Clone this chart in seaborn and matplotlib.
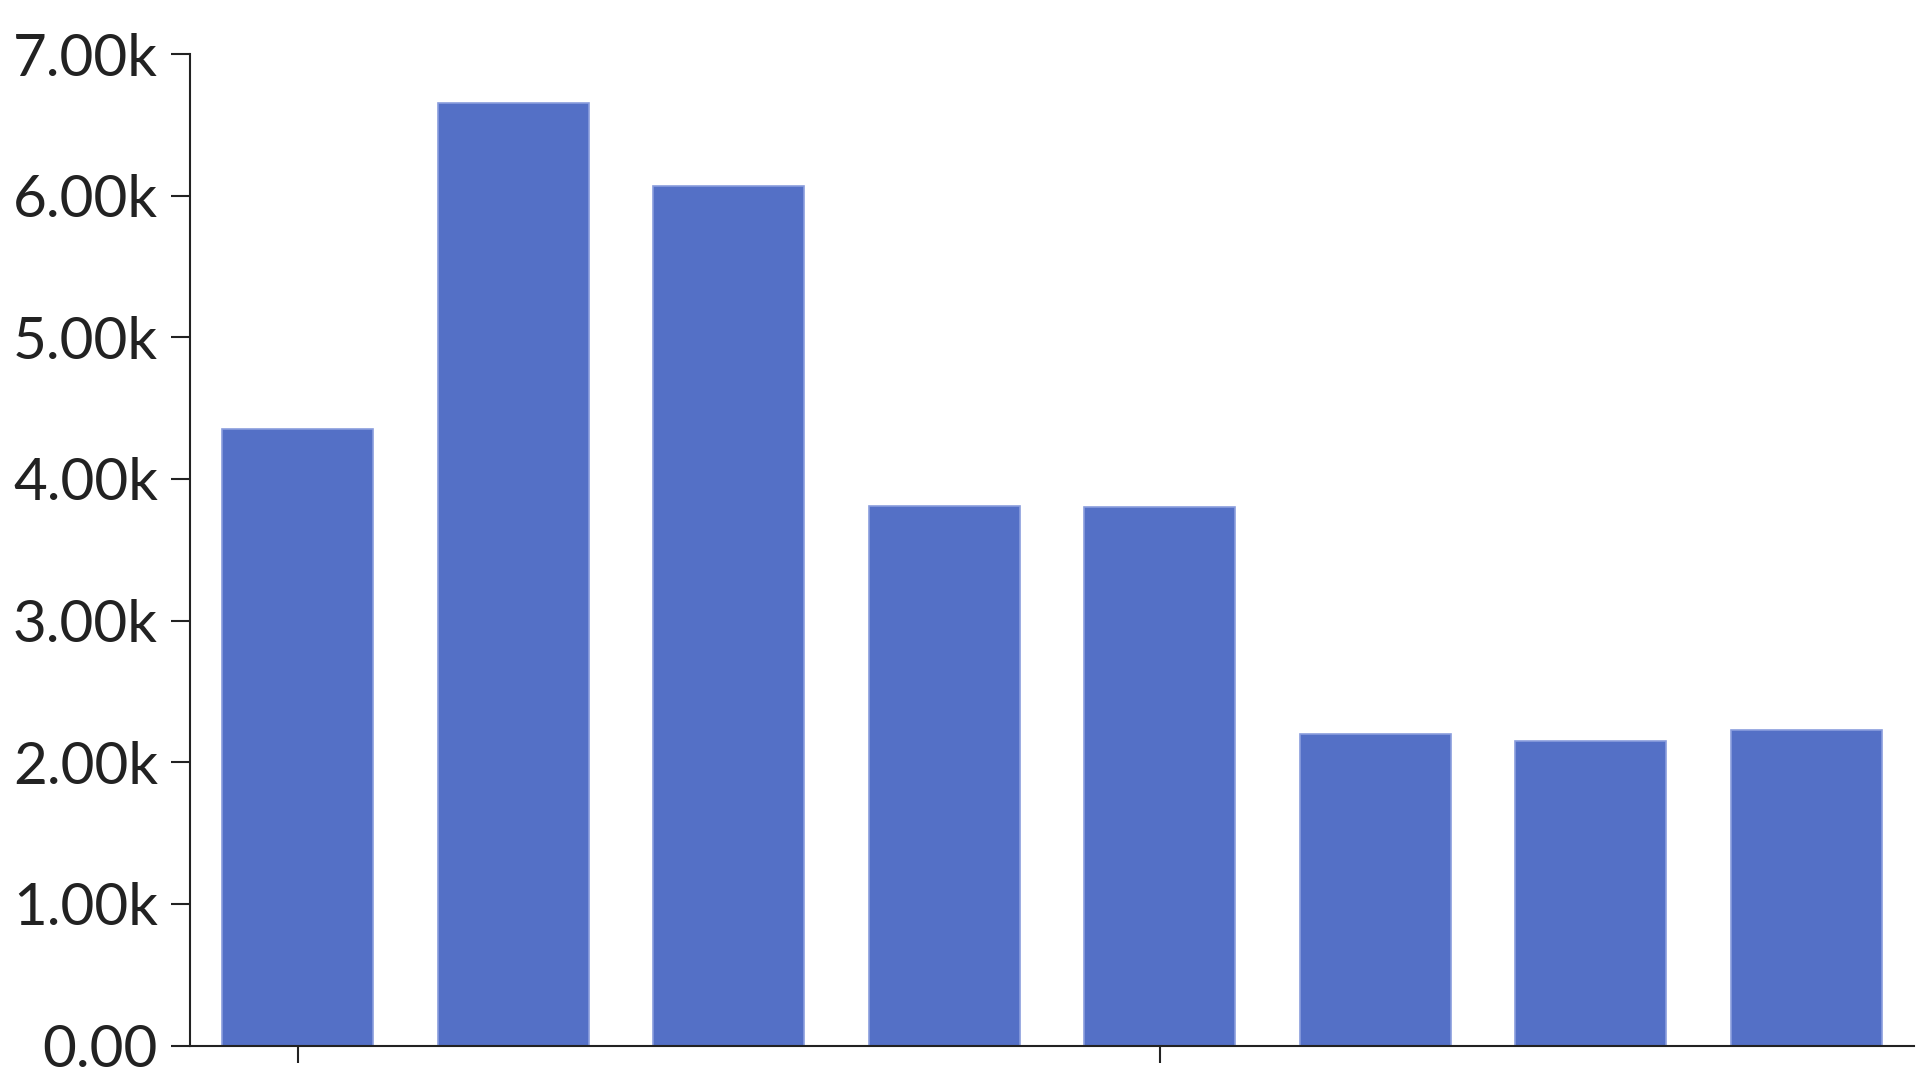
import matplotlib
matplotlib.use("Agg")
import matplotlib.pyplot as plt
import seaborn as sns
import pandas as pd
from matplotlib.ticker import FuncFormatter

# values (x labels are hidden in the original)
categories = ["c1", "c2", "c3", "c4", "c5", "c6", "c7", "c8"]
values = [4350, 6655, 6065, 3810, 3800, 2200, 2150, 2225]
y_ticks = [0, 1000, 2000, 3000, 4000, 5000, 6000, 7000]
x_tick_positions = [0, 4]
x_tick_labels = ["", ""]

df = pd.DataFrame({"category": categories, "value": values})

sns.set_style("white")
plt.rcParams["font.family"] = ["Lato", "DejaVu Sans"]

fig = plt.figure(figsize=(19.2, 10.8), dpi=100)
ax = fig.add_axes([0.0989, 0.0318, 0.8979, 0.9182])

sns.barplot(data=df, x="category", y="value", order=categories,
            color="#5470c6", saturation=1, width=0.7, ax=ax,
            edgecolor="#8a9ddd", linewidth=1.2)

ax.set_xlim(-0.5, len(categories) - 0.5)
ax.set_ylim(0, 7000)
ax.set_yticks(y_ticks)
ax.yaxis.set_major_formatter(
    FuncFormatter(lambda v, _: "0.00" if v == 0 else f"{v / 1000:.2f}k"))
ax.set_xticks(x_tick_positions)
ax.set_xticklabels(x_tick_labels)
ax.set_xlabel("")
ax.set_ylabel("")

for side in ["top", "right"]:
    ax.spines[side].set_visible(False)
for side in ["left", "bottom"]:
    ax.spines[side].set_color("#222222")
    ax.spines[side].set_linewidth(1.5)

ax.tick_params(axis="y", direction="out", length=14, width=1.5, pad=9,
               labelsize=42, colors="#222222", left=True)
ax.tick_params(axis="x", direction="out", length=12, width=1.5,
               colors="#222222", bottom=True)

fig.savefig("out.png", dpi=100)
